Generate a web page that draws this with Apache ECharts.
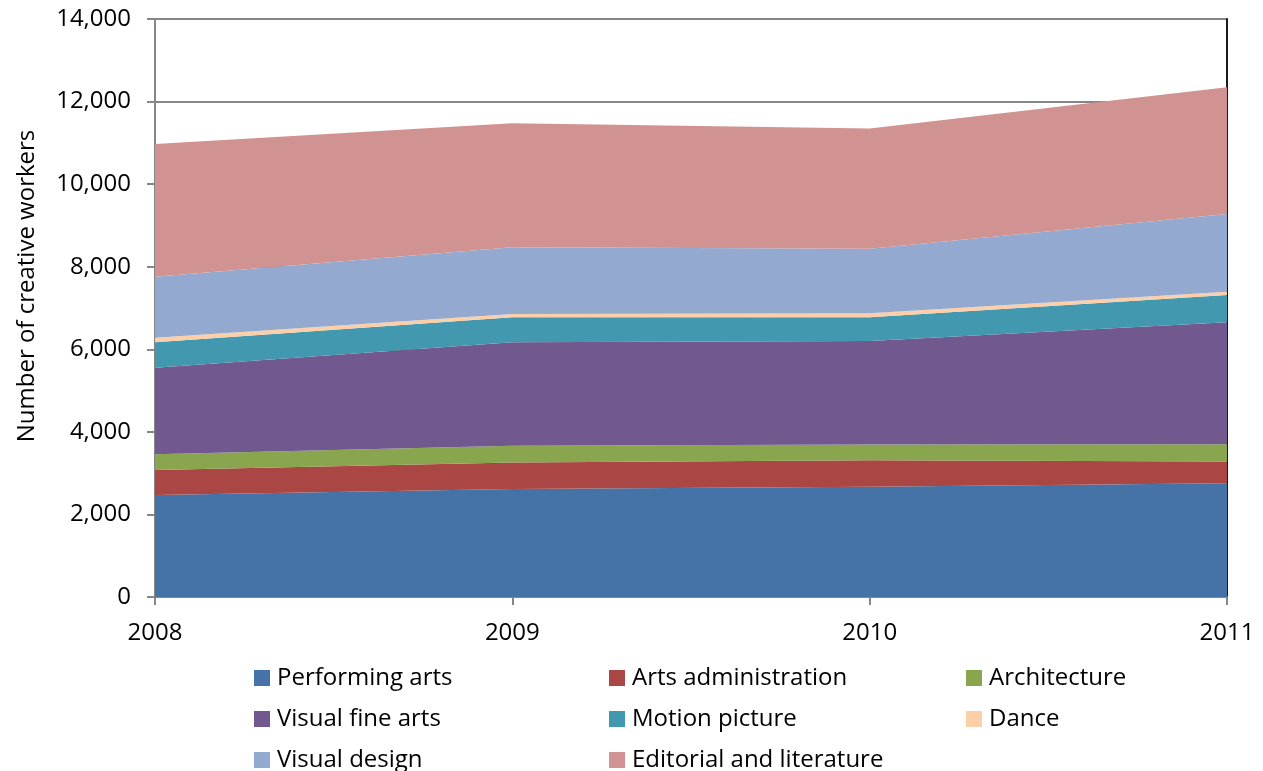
<!DOCTYPE html>
<html>
<head>
<meta charset="utf-8">
<script src="https://cdn.jsdelivr.net/npm/echarts@6/dist/echarts.min.js"></script>
<style type="text/css">
html, body { margin: 0; padding: 0; background: #fff; }
#chart { width: 1263px; height: 771px; }
</style>
</head>
<body>
<div id="chart"></div>
<script type="text/javascript">
// years on the x axis
var years = ['2008', '2009', '2010', '2011'];

// number of creative workers per field
var performingArts = [2470, 2615, 2670, 2755];
var artsAdministration = [605, 645, 645, 525];
var architecture = [380, 405, 380, 420];
var visualFineArts = [2100, 2505, 2505, 2955];
var motionPicture = [615, 605, 575, 660];
var dance = [110, 80, 95, 80];
var visualDesign = [1475, 1615, 1565, 1880];
var editorialLiterature = [3215, 3005, 2915, 3070];

var seriesNames = ['Performing arts', 'Arts administration', 'Architecture', 'Visual fine arts',
    'Motion picture', 'Dance', 'Visual design', 'Editorial and literature'];
var seriesData = [performingArts, artsAdministration, architecture, visualFineArts,
    motionPicture, dance, visualDesign, editorialLiterature];
var colors = ['#4572A7', '#AA4643', '#89A54E', '#71588F', '#4198AF', '#FCCFA8', '#93A9CF', '#D19392'];

var FONT = 'Open Sans';
var FS = 24;
var axisGray = '#868686';

var series = [];
for (var i = 0; i < seriesNames.length; i++) {
    series.push({
        name: seriesNames[i],
        type: 'line',
        stack: 'total',
        symbol: 'none',
        lineStyle: { width: 0 },
        areaStyle: { color: colors[i], opacity: 1 },
        itemStyle: { color: colors[i] },
        data: seriesData[i]
    });
}

// legend laid out in three columns
function legendCol(left, names) {
    return {
        orient: 'vertical',
        left: left,
        top: 666,
        height: 140,
        padding: 0,
        itemGap: 17,
        itemWidth: 16,
        itemHeight: 16,
        icon: 'rect',
        selectedMode: false,
        textStyle: { fontFamily: FONT, fontSize: FS, lineHeight: 24, color: '#000', padding: [0, 0, 0, 2] },
        data: names
    };
}

var myChart = echarts.init(document.getElementById('chart'));
var option = {
    animation: false,
    color: colors,
    grid: { left: 155, right: 36, top: 19, bottom: 174 },
    legend: [
        legendCol(254, ['Performing arts', 'Visual fine arts', 'Visual design']),
        legendCol(609, ['Arts administration', 'Motion picture', 'Editorial and literature']),
        legendCol(966, ['Architecture', 'Dance'])
    ],
    xAxis: {
        type: 'category',
        boundaryGap: false,
        data: years,
        axisLine: { lineStyle: { color: axisGray, width: 2 } },
        axisTick: { show: true, length: 8, lineStyle: { color: axisGray, width: 2 } },
        axisLabel: { color: '#000', fontFamily: FONT, fontSize: FS, margin: 24 }
    },
    yAxis: [
        {
            type: 'value',
            min: 0,
            max: 14000,
            interval: 2000,
            name: 'Number of creative workers',
            nameLocation: 'middle',
            nameGap: 116,
            nameTextStyle: { color: '#000', fontFamily: FONT, fontSize: FS, padding: [0, 0, 0, 44] },
            axisLine: { show: true, lineStyle: { color: axisGray, width: 2 } },
            axisTick: { show: true, length: 8, lineStyle: { color: axisGray, width: 2 } },
            splitLine: { show: true, lineStyle: { color: axisGray, width: 2 } },
            axisLabel: {
                color: '#000', fontFamily: FONT, fontSize: FS, margin: 24,
                formatter: function (v) { return v.toLocaleString('en-US'); }
            }
        },
        {
            type: 'value',
            position: 'right',
            min: 0,
            max: 14000,
            interval: 2000,
            axisLine: { show: true, lineStyle: { color: '#1a1a1a', width: 2 } },
            axisTick: { show: false },
            axisLabel: { show: false },
            splitLine: { show: false }
        }
    ],
    series: series
};
myChart.setOption(option);
</script>
</body>
</html>
